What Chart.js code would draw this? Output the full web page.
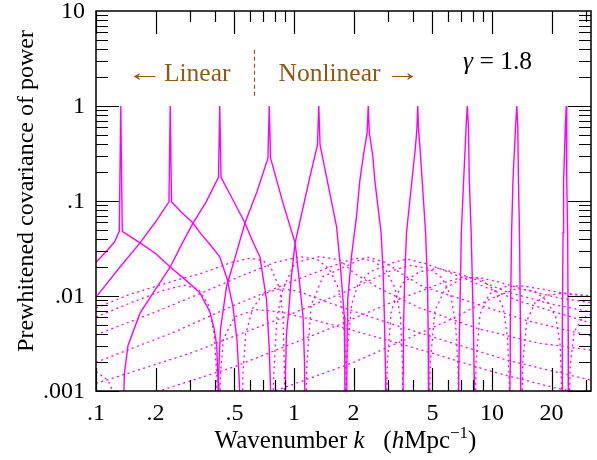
<!DOCTYPE html>
<html>
<head>
<meta charset="utf-8">
<script src="https://cdn.jsdelivr.net/npm/chart.js@4/dist/chart.umd.min.js"></script>
<style>
  html, body { margin: 0; padding: 0; background: #fff; }
  #wrap { width: 597px; height: 460px; }
</style>
</head>
<body>
<div id="wrap"><canvas id="grafico" width="597" height="460"></canvas></div>
<script>
// tick labels
const xTickValues = [0.1, 0.2, 0.5, 1, 2, 5, 10, 20];
const xTickLabels = ['.1', '.2', '.5', '1', '2', '5', '10', '20'];
const yTickValues = [0.001, 0.01, 0.1, 1, 10];
const yTickLabels = ['.001', '.01', '.1', '1', '10'];

// covariance of power at each spike k with power at k: [k, value]
// negative values are drawn dotted (absolute value)
const curve0 = [[0.1, 0.0227], [0.112, 0.029], [0.124, 0.037], [0.1311, 0.048], [0.1334, 1], [0.1357, 0.048],
  [0.1668, 0.0363], [0.2, 0.028], [0.2371, 0.0202], [0.285, 0.0146], [0.3351, 0.0108], [0.376, 0.0068],
  [0.395, 0.0045], [0.407, 0.003], [0.414, 0.0012], [0.417, 0.0004],
  [0.42, -0.0004], [0.425, -0.0015], [0.44, -0.0035], [0.5, -0.006], [0.64, -0.0072], [0.85, -0.0068],
  [1.3, -0.0055], [2.5, -0.0038], [5, -0.0025], [10, -0.0016], [20, -0.0011], [31.62, -0.0009]];
const curve1 = [[0.1015, 0.0101], [0.1322, 0.0202], [0.1668, 0.0362], [0.1985, 0.059], [0.2336, 0.098], [0.2371, 1],
  [0.2406, 0.098], [0.27, 0.076], [0.309, 0.0586], [0.3351, 0.0464], [0.38, 0.034], [0.4217, 0.0258],
  [0.46, 0.015], [0.4918, 0.0077], [0.515, 0.0035], [0.53, 0.0012], [0.537, 0.0004],
  [0.545, -0.0004], [0.552, -0.0015], [0.57, -0.004], [0.62, -0.0075], [0.7, -0.0105], [0.85, -0.012],
  [1.05, -0.0112], [1.5, -0.0085], [3, -0.0052], [6, -0.0033], [12, -0.0021], [31.62, -0.0013]];
const curve2 = [[0.1, -0.0016], [0.115, -0.0013], [0.127, -0.0008], [0.133, -0.0004],
  [0.137, 0.0004], [0.139, 0.0015], [0.145, 0.003], [0.1668, 0.0066], [0.2, 0.0118], [0.2371, 0.0202],
  [0.27, 0.0345], [0.309, 0.0586], [0.36, 0.098], [0.4155, 0.178], [0.4217, 1], [0.428, 0.178],
  [0.48, 0.113], [0.5654, 0.0586], [0.62, 0.037], [0.673, 0.0258], [0.726, 0.0092], [0.75, 0.0028],
  [0.764, 0.0008], [0.77, 0.0003],
  [0.78, -0.0004], [0.79, -0.0015], [0.82, -0.006], [0.88, -0.012], [1.013, -0.0224], [1.354, -0.026],
  [1.705, -0.024], [1.995, -0.0176], [2.71, -0.012], [4.3, -0.0075], [8.6, -0.0045], [17, -0.0032], [31.62, -0.0027]];
const curve3 = [[0.1, -0.006], [0.15, -0.0085], [0.22, -0.0115], [0.28, -0.013], [0.33, -0.0118], [0.37, -0.008],
  [0.395, -0.004], [0.407, -0.0015], [0.411, -0.0004],
  [0.413, 0.0004], [0.416, 0.0015], [0.425, 0.0044], [0.4563, 0.0126], [0.5, 0.024], [0.5654, 0.0586],
  [0.65, 0.125], [0.739, 0.284], [0.75, 1], [0.761, 0.284], [0.88, 0.095], [1.013, 0.0363], [1.07, 0.013],
  [1.111, 0.006], [1.13, 0.002], [1.138, 0.0004],
  [1.145, -0.0004], [1.16, -0.0018], [1.22, -0.008], [1.4, -0.016], [1.915, -0.0215], [2.33, -0.0258],
  [2.93, -0.0224], [3.42, -0.0176], [4.5, -0.0125], [8, -0.0085], [15, -0.0055], [31.62, -0.0038]];
const curve4 = [[0.1, -0.0075], [0.15, -0.0105], [0.25, -0.0145], [0.35, -0.0176], [0.48, -0.0225], [0.6, -0.025],
  [0.7, -0.0235], [0.774, -0.0188], [0.851, -0.0116], [0.88, -0.006], [0.893, -0.002], [0.899, -0.0005],
  [0.902, 0.0004], [0.906, 0.0015], [0.916, 0.004], [0.936, 0.0062], [0.97, 0.016], [1.013, 0.0363],
  [1.1, 0.078], [1.2, 0.175], [1.314, 0.389], [1.334, 1], [1.354, 0.389], [1.5, 0.135], [1.641, 0.0537],
  [1.72, 0.019], [1.794, 0.0062], [1.805, 0.002], [1.81, 0.0004],
  [1.815, -0.0004], [1.84, -0.002], [1.95, -0.008], [2.1, -0.013], [2.42, -0.018], [3.17, -0.0224],
  [3.7, -0.0245], [4.58, -0.022], [5.8, -0.0185], [7.7, -0.0145], [13.8, -0.0088], [31.62, -0.0052]];
const curve5 = [[0.1, -0.0039], [0.2, -0.0068], [0.35, -0.011], [0.55, -0.0165], [0.8, -0.0225], [1.07, -0.026],
  [1.3, -0.0245], [1.5, -0.0195], [1.68, -0.012], [1.78, -0.006], [1.825, -0.002], [1.838, -0.0005],
  [1.843, 0.0004], [1.848, 0.0015], [1.858, 0.005], [1.868, 0.0092], [1.95, 0.026], [2.068, 0.0684],
  [2.15, 0.164], [2.25, 0.32], [2.34, 0.52], [2.371, 1], [2.40, 0.52], [2.50, 0.3], [2.56, 0.164],
  [2.753, 0.0464], [2.82, 0.018], [2.86, 0.0062], [2.9, 0.0015], [2.909, 0.0004],
  [2.92, -0.0004], [2.96, -0.002], [3.1, -0.007], [3.5, -0.0135], [4.3, -0.018], [5.3, -0.0196],
  [6.6, -0.0175], [8.6, -0.0145], [12, -0.011], [20, -0.0082], [31.62, -0.0068]];
const curve6 = [[0.1, -0.002], [0.25, -0.0042], [0.5, -0.008], [1.0, -0.0145], [1.6, -0.021], [2.03, -0.025],
  [2.5, -0.0235], [2.9, -0.019], [3.25, -0.012], [3.45, -0.006], [3.53, -0.002], [3.545, -0.0005],
  [3.55, 0.0004], [3.558, 0.0015], [3.568, 0.004], [3.62, 0.015], [3.70, 0.0464], [3.94, 0.164],
  [4.1, 0.36], [4.17, 0.55], [4.217, 1], [4.26, 0.55], [4.33, 0.36], [4.44, 0.164], [4.62, 0.0464],
  [4.73, 0.012], [4.76, 0.004], [4.785, 0.0015], [4.8, 0.0004],
  [4.82, -0.0004], [4.88, -0.002], [5.15, -0.007], [5.8, -0.012], [7.0, -0.0152], [8.6, -0.0157],
  [10.9, -0.014], [15, -0.0115], [22, -0.0095], [31.62, -0.0085]];
const curve7 = [[0.1, -0.0012], [0.3, -0.0025], [0.8, -0.0055], [1.8, -0.011], [3.0, -0.018], [3.84, -0.021],
  [4.8, -0.0195], [5.6, -0.0155], [6.2, -0.01], [6.55, -0.005], [6.73, -0.0018], [6.765, -0.0005],
  [6.77, 0.0004], [6.79, 0.0015], [6.85, 0.004], [7.0, 0.0464], [7.19, 0.164], [7.40, 0.6], [7.499, 1],
  [7.60, 0.6], [7.68, 0.164], [7.85, 0.0464], [8.07, 0.004], [8.12, 0.0015], [8.14, 0.0004],
  [8.2, -0.0004], [8.3, -0.002], [8.7, -0.0065], [9.7, -0.0105], [11.5, -0.0125], [14, -0.0128],
  [18, -0.0118], [24, -0.0105], [31.62, -0.0098]];
const curve8 = [[0.15, -0.0008], [0.5, -0.0018], [1.5, -0.0045], [3.5, -0.0095], [5.5, -0.0135], [7.3, -0.016],
  [8.8, -0.015], [10.3, -0.0115], [11.4, -0.0075], [12.0, -0.0035], [12.25, -0.001], [12.29, -0.0004],
  [12.3, 0.0004], [12.33, 0.0015], [12.36, 0.004], [12.56, 0.0464], [12.76, 0.164], [13.15, 0.6], [13.34, 1],
  [13.5, 0.6], [13.6, 0.164], [13.77, 0.0464], [13.93, 0.004], [13.96, 0.0015], [13.97, 0.0004],
  [14.1, -0.0004], [14.3, -0.002], [15, -0.0055], [16.5, -0.0085], [19, -0.0102], [23, -0.0107],
  [27, -0.0104], [31.62, -0.01]];
const curve9 = [[0.5, -0.0007], [2, -0.002], [6, -0.0055], [10, -0.0095], [13.4, -0.012], [16.5, -0.0112],
  [19, -0.0088], [21, -0.006], [22.1, -0.003], [22.5, -0.001], [22.59, -0.0004],
  [22.6, 0.0004], [22.63, 0.0015], [22.65, 0.004], [22.85, 0.0464], [23.0, 0.164], [23.45, 0.6], [23.71, 1],
  [23.8, 0.6], [23.9, 0.164], [24.1, 0.0464], [24.25, 0.004], [24.28, 0.0015], [24.3, 0.0004],
  [24.45, -0.0004], [24.8, -0.0018], [26, -0.0042], [28.5, -0.0058], [31.62, -0.0064]];
const curves = [curve0, curve1, curve2, curve3, curve4, curve5, curve6, curve7, curve8, curve9];

// where the "Linear | Nonlinear" divider sits
const kDivider = 0.63;

const SERIF = '"Liberation Serif", "Times New Roman", serif';
const MAGENTA = '#ff00ff';
const BROWN = '#8c5a14';

// split each curve into runs of one sign
function runsOf(curve) {
  const runs = [];
  let cur = null;
  for (const [k, v] of curve) {
    const neg = v < 0;
    if (!cur || cur.neg !== neg) {
      cur = { neg, pts: [] };
      runs.push(cur);
    }
    cur.pts.push({ x: k, y: Math.abs(v) });
  }
  return runs;
}

const datasets = [];
curves.forEach(c => {
  runsOf(c).forEach(r => {
    datasets.push({
      data: r.pts,
      borderColor: MAGENTA,
      borderWidth: r.neg ? 1.3 : 1.4,
      borderDash: r.neg ? [2, 3.5] : [],
      pointRadius: 0,
      fill: false,
      tension: 0,
      clip: 0
    });
  });
});

// arrow glyph stretched sideways, like the long arrows of the original
function seta(ctx, ch, xLeft, yBase, sx) {
  ctx.save();
  ctx.translate(xLeft, yBase);
  ctx.scale(sx, 1);
  ctx.textAlign = 'left';
  ctx.fillText(ch, 0, 0);
  ctx.restore();
}

const moldura = {
  id: 'moldura',
  afterDatasetsDraw(chart) {
    const { ctx, chartArea: a, scales: { x, y } } = chart;
    ctx.save();
    ctx.strokeStyle = '#000';
    ctx.lineWidth = 1.2;
    ctx.beginPath();
    // y ticks on both sides
    for (let e = -3; e <= 0; e++) {
      for (let m = 1; m <= 9; m++) {
        const v = m * Math.pow(10, e);
        const py = Math.round(y.getPixelForValue(v)) + 0.5;
        const len = m === 1 ? 23 : 12;
        ctx.moveTo(a.left, py); ctx.lineTo(a.left + len, py);
        ctx.moveTo(a.right, py); ctx.lineTo(a.right - len, py);
      }
    }
    // x ticks top and bottom
    for (let e = -1; e <= 1; e++) {
      for (let m = 1; m <= 9; m++) {
        const v = m * Math.pow(10, e);
        if (v > 31.6) continue;
        const px = Math.round(x.getPixelForValue(v)) + 0.5;
        const len = (m === 1 || m === 2 || m === 5) ? 23 : 11;
        ctx.moveTo(px, a.bottom); ctx.lineTo(px, a.bottom - len);
        ctx.moveTo(px, a.top); ctx.lineTo(px, a.top + len);
      }
    }
    ctx.stroke();
    ctx.lineWidth = 1.5;
    ctx.strokeRect(a.left, a.top, a.right - a.left, a.bottom - a.top);

    // tick labels
    ctx.fillStyle = '#000';
    ctx.font = '24px ' + SERIF;
    ctx.textAlign = 'right';
    ctx.textBaseline = 'middle';
    yTickValues.forEach((v, i) => ctx.fillText(yTickLabels[i], a.left - 11, y.getPixelForValue(v) + 1));
    ctx.textAlign = 'center';
    ctx.textBaseline = 'alphabetic';
    xTickValues.forEach((v, i) => ctx.fillText(xTickLabels[i], x.getPixelForValue(v), a.bottom + 29));

    // divider between linear and nonlinear
    const dx = Math.round(x.getPixelForValue(kDivider)) + 0.5;
    ctx.strokeStyle = BROWN;
    ctx.lineWidth = 1.2;
    ctx.setLineDash([4, 3]);
    ctx.beginPath();
    ctx.moveTo(dx, y.getPixelForValue(3.9));
    ctx.lineTo(dx, y.getPixelForValue(1.25));
    ctx.stroke();
    ctx.setLineDash([]);

    ctx.fillStyle = BROWN;
    ctx.font = '25.5px ' + SERIF;
    ctx.textAlign = 'left';
    const wLin = ctx.measureText('Linear').width;
    const xLin = dx - 24 - wLin;
    ctx.fillText('Linear', xLin, 81);
    seta(ctx, '\u2190', xLin - 37, 81, 1.4);
    ctx.fillText('Nonlinear', dx + 24, 81);
    const xN = dx + 24 + ctx.measureText('Nonlinear ').width - 2;
    seta(ctx, '\u2192', xN, 81, 1.4);

    // gamma label
    ctx.fillStyle = '#000';
    let gx = 463;
    ctx.font = 'italic 25.5px ' + SERIF;
    ctx.fillText('\u03b3', gx, 69);
    gx += ctx.measureText('\u03b3').width;
    ctx.font = '25.5px ' + SERIF;
    ctx.fillText(' = 1.8', gx, 69);

    // x title with italic parts
    const parts = [
      ['Wavenumber ', '25px ', 0], ['k', 'italic 25px ', 0], ['\u2002 (', '25px ', 0],
      ['h', 'italic 25px ', 0], ['Mpc', '25px ', 0], ['\u22121', '17px ', -10], [')', '25px ', 0]
    ];
    let total = 0;
    parts.forEach(p => { ctx.font = p[1] + SERIF; total += ctx.measureText(p[0]).width; });
    let tx = (a.left + a.right) / 2 + 2 - total / 2;
    ctx.textAlign = 'left';
    parts.forEach(p => {
      ctx.font = p[1] + SERIF;
      ctx.fillText(p[0], tx, 448 + p[2]);
      tx += ctx.measureText(p[0]).width;
    });

    // y title
    ctx.save();
    ctx.translate(33, 191);
    ctx.rotate(-Math.PI / 2);
    ctx.textAlign = 'center';
    ctx.font = '24px ' + SERIF;
    ctx.fillText('Prewhitened covariance of power', 0, 0);
    ctx.restore();
    ctx.restore();
  }
};

new Chart(document.getElementById('grafico'), {
  type: 'line',
  data: { datasets },
  options: {
    responsive: false,
    animation: false,
    events: [],
    layout: { padding: { left: 0, right: 6, top: 11, bottom: 0 } },
    plugins: { legend: { display: false }, tooltip: { enabled: false } },
    scales: {
      x: {
        type: 'logarithmic',
        min: 0.1,
        max: 31.62,
        grid: { display: false },
        border: { display: false },
        ticks: { display: false },
        afterFit: s => { s.height = 69; }
      },
      y: {
        type: 'logarithmic',
        min: 0.001,
        max: 10,
        grid: { display: false },
        border: { display: false },
        ticks: { display: false },
        afterFit: s => { s.width = 96; }
      }
    }
  },
  plugins: [moldura]
});
</script>
</body>
</html>
